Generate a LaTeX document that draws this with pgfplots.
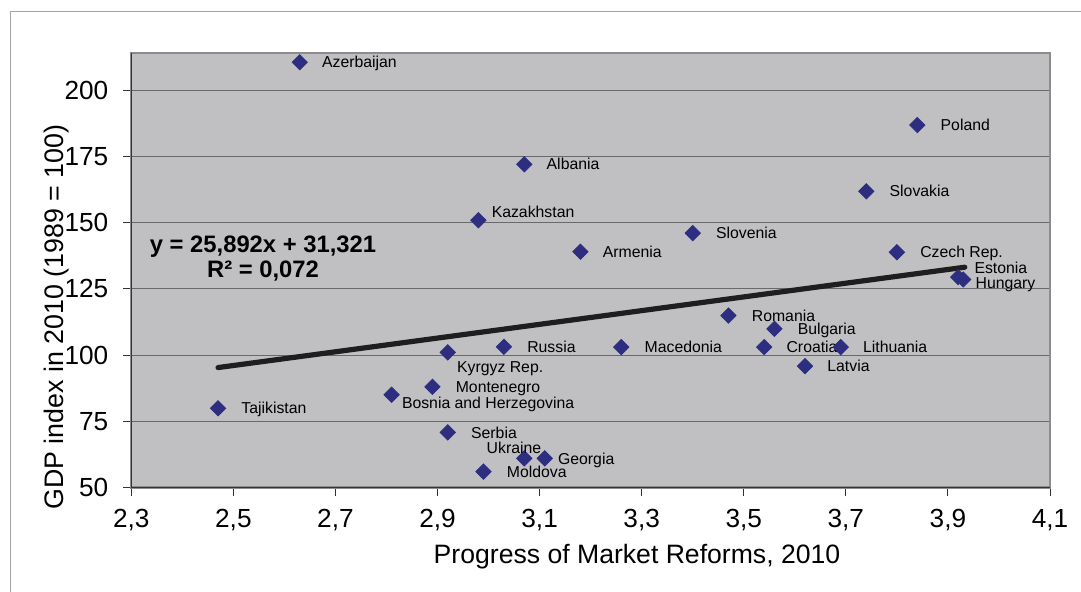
\documentclass[border=0pt]{standalone}
\usepackage{pgfplots}
\pgfplotsset{compat=1.18}
\usepackage{pgfplotstable}
\usepackage{fontspec}
\setmainfont{Liberation Sans}
\definecolor{plotbg}{RGB}{192,192,195}
\definecolor{mk}{RGB}{46,46,128}
\definecolor{gridc}{RGB}{105,105,105}
\definecolor{framec}{RGB}{165,165,165}
\definecolor{boxc}{RGB}{140,140,140}
\definecolor{trend}{RGB}{30,30,30}

\pgfplotstableread{
x y dx dy label
2.63 210.5 22 0 Azerbaijan
3.84 186.8 23 0 Poland
3.07 172.0 22 0 Albania
3.74 161.8 23 0 Slovakia
2.98 150.9 13 8 Kazakhstan
3.40 146.0 23 0 Slovenia
3.18 139.0 22 0 Armenia
3.80 138.8 23 0 {Czech Rep.}
3.92 129.4 16 9.5 Estonia
3.93 128.5 12 -3.4 Hungary
3.47 114.9 23 0 Romania
3.56 109.9 23 0 Bulgaria
3.54 103.0 22 0 Croatia
3.69 103.0 22 0 Lithuania
3.62 95.8 22 0 Latvia
3.26 103.0 23 0 Macedonia
3.03 103.1 23 0 Russia
2.92 101.0 9 -14 {Kyrgyz Rep.}
2.89 88.0 23 0 Montenegro
2.81 85.0 10 -8 {Bosnia and Herzegovina}
2.92 70.8 23 0 Serbia
3.07 61.0 -38 11 Ukraine
3.11 61.0 13 0 Georgia
2.99 56.0 23 0 Moldova
2.47 79.9 23 0 Tajikistan
}\pts

\begin{document}
\begin{tikzpicture}
\useasboundingbox (0pt,0pt) rectangle (540.5pt,295.5pt);
\fill[white] (0pt,0pt) rectangle (540.5pt,295.5pt);
\draw[framec, line width=0.6pt] (5.3pt,-2pt) -- (5.3pt,289.8pt) -- (545pt,289.8pt);
\begin{axis}[
  at={(65.65pt,51.75pt)}, anchor=south west,
  scale only axis, width=459.35pt, height=217.25pt,
  xmin=2.3, xmax=4.1, ymin=50, ymax=214,
  xtick={2.3,2.5,2.7,2.9,3.1,3.3,3.5,3.7,3.9,4.1},
  ytick={50,75,100,125,150,175,200},
  xtick pos=left, ytick pos=left,
  tick align=outside, major tick length=4pt,
  tick style={black!80, line width=0.5pt},
  ymajorgrids, grid style={gridc, line width=0.5pt},
  axis background/.style={fill=plotbg},
  axis line style={boxc, line width=1.1pt},
  /pgf/number format/assume math mode=true,
  xticklabel style={/pgf/number format/.cd, fixed, fixed zerofill, precision=1, use comma, /tikz/.cd, yshift=-3.5pt},
  yticklabel style={xshift=-4pt},
  ticklabel style={font=\fontsize{13.1}{15}\selectfont},
  clip=false,
  after end axis/.code={
    \draw[black!80, line width=0.8pt] (rel axis cs:0,1) -- (rel axis cs:0,0) -- (rel axis cs:1,0);
  },
]
\addplot[line width=2.6pt, trend, line cap=round] coordinates {(2.47,95.27) (3.933,133.15)};
\addplot[
  only marks, mark=square*, mark size=2.7pt,
  mark options={rotate=45, fill=mk, draw=mk},
  point meta=explicit symbolic,
  visualization depends on={\thisrow{dx} \as \dx},
  visualization depends on={\thisrow{dy} \as \dy},
  nodes near coords,
  every node near coord/.style={anchor=west, inner sep=0pt, text height=5.65pt, text depth=0pt,
    font=\fontsize{7.9}{9}\selectfont, black, xshift=0.5*\dx pt, yshift=0.5*\dy pt},
] table[x=x, y=y, meta=label] {\pts};
\end{axis}
\node[font=\fontsize{11.9}{12.5}\selectfont\bfseries, align=center] at (131.5pt,166pt) {y = 25,892x + 31,321\\R² = 0,072};
\node[font=\fontsize{13.4}{15}\selectfont, rotate=90] at (28.5pt,137pt) {GDP index in 2010 (1989 = 100)};
\node[font=\fontsize{13.3}{15}\selectfont] at (318.5pt,17pt) {Progress of Market Reforms, 2010};
\end{tikzpicture}
\end{document}
